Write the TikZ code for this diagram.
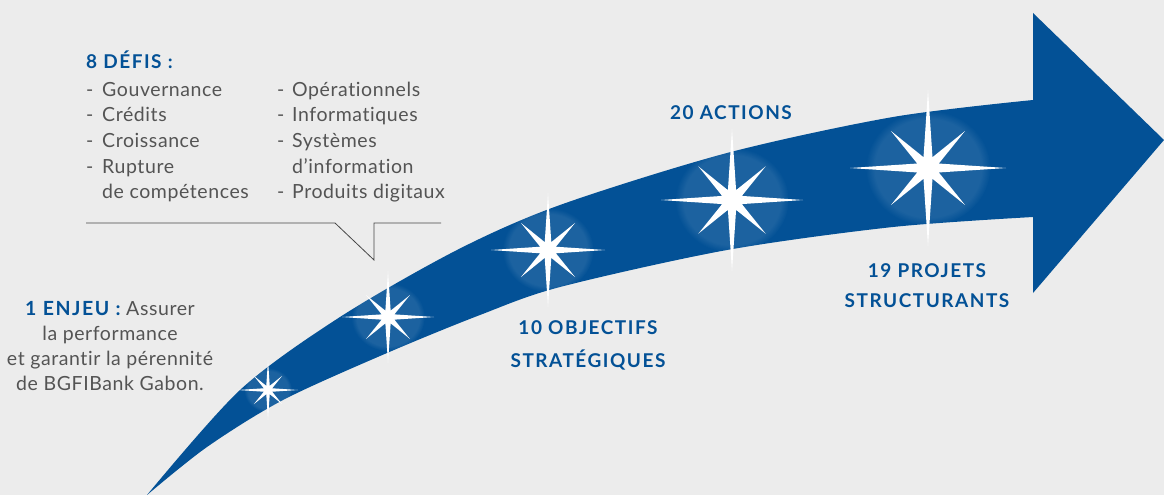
\documentclass[tikz,border=0pt]{standalone}
\usepackage{fontspec}
\setmainfont{Lato}[Ligatures=NoCommon, LetterSpace=3]
\newfontfamily\headfont{Lato}[Ligatures=NoCommon, LetterSpace=8]
\usepackage{tikz}
\usetikzlibrary{fadings}

\definecolor{pagegray}{RGB}{236,236,236}
\definecolor{arrowblue}{RGB}{3,81,150}
\definecolor{textgray}{RGB}{84,84,84}
\definecolor{rulegray}{RGB}{70,70,70}

\newcommand{\tiret}{\makebox[16pt][l]{-}}
% eight-pointed star: x, y, long radius
\newcommand{\sparkle}[3]{%
  \fill[white] ([shift={(#1,#2)}]0:#3)
    \foreach \a/\f in {22.5/0.15,45/0.67,67.5/0.15,90/1,112.5/0.15,135/0.67,157.5/0.15,180/1,
                       202.5/0.15,225/0.67,247.5/0.15,270/1,292.5/0.15,315/0.67,337.5/0.15}
    { -- ([shift={(#1,#2)}]\a:{\f*#3}) } -- cycle;}
\newcommand{\glow}[3]{%
  \fill[white, fill opacity=0.10, path fading=circle with fuzzy edge 15 percent]
    (#1,#2) ellipse [x radius={0.8*#3}, y radius={0.74*#3}];}

\begin{document}
\begin{tikzpicture}[x=1pt,y=-1pt,
  heading/.style={font=\headfont\bfseries\fontsize{19}{#1}\selectfont, text=arrowblue, inner sep=0pt, align=center},
  heading/.default=25,
  body/.style={font=\fontsize{19.5}{25.7}\selectfont, text=textgray, inner sep=0pt}]
\fill[pagegray] (0,0) rectangle (1164,495);

% the arrow
\fill[arrowblue, save path=\arrowpath]
  plot[smooth] coordinates {(147,495) (240,390) (340,317) (457,250) (560,205) (727,153) (893,117) (1033,100)}
  -- (1033,13) -- (1164,140) -- (1033,293) -- (1033,217)
  -- plot[smooth] coordinates {(1033,217) (893,227) (727,250) (560,287) (480,315) (387,353) (283,400) (207,447) (147,495)}
  -- cycle;

\begin{scope}
  \clip[use path=\arrowpath];
  \glow{268}{390}{30}
  \glow{388}{317}{46}
  \glow{548}{250}{57}
  \glow{732}{200}{71}
  \glow{928}{168}{78}
\end{scope}

\sparkle{268}{390}{30}
\sparkle{388}{317}{46}
\sparkle{548}{250}{57}
\sparkle{732}{200}{71}
\sparkle{928}{168}{78}

% callout
\draw[rulegray, line width=0.8pt] (86,223) -- (335,223) -- (374,260) -- (374,223) -- (441,223);

\node[heading, anchor=base west] (defis) at (86,68) {8 DÉFIS :};
\node[body, anchor=north west, align=left] (defisA) at (86,78)
  {\strut\tiret Gouvernance\\ \tiret Crédits\\ \tiret Croissance\\ \tiret Rupture\\ \hspace*{16pt}de compétences};
\node[body, anchor=north west, align=left] (defisB) at (277,78)
  {\strut\makebox[15pt][l]{-}Opérationnels\\ \makebox[15pt][l]{-}Informatiques\\ \makebox[15pt][l]{-}Systèmes\\ \hspace*{15pt}d’information\\ \makebox[15pt][l]{-}Produits digitaux};

\node[body, anchor=north, align=center, font=\fontsize{19.5}{25}\selectfont] (enjeu) at (110,297.5)
  {\strut{\headfont\bfseries\color{arrowblue}1 ENJEU :} Assurer\\ la performance\\ et garantir la pérennité\\ de BGFIBank Gabon.};

\node[heading, anchor=base] (actions) at (731,119) {20 ACTIONS};
\node[heading=33, anchor=north] (objectifs) at (588,310.9) {\strut 10 OBJECTIFS\\ STRATÉGIQUES};
\node[heading=30, anchor=north] (projets) at (927,256) {\strut 19 PROJETS\\ STRUCTURANTS};
\end{tikzpicture}
\end{document}
